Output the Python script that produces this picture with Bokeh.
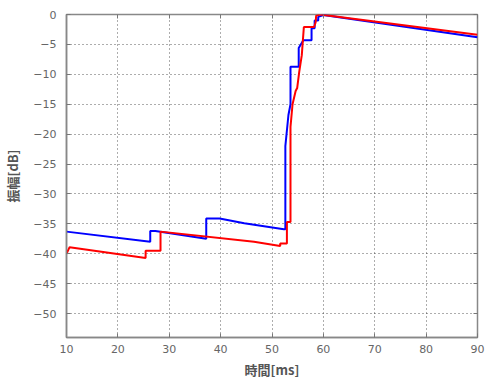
from bokeh.plotting import figure
from bokeh.models import Range1d, FixedTicker, LinearAxis
from bokeh.embed import file_html
from bokeh.resources import INLINE

# data (time in ms, amplitude in dB)
blue_x = [10, 26.3, 26.3, 27.3, 37.2, 37.2, 39.8, 44.6, 52.3, 52.6, 52.6, 53.2, 53.6, 53.6,
          55.2, 55.2, 56.1, 57.7, 57.7, 58.3, 58.3, 59.0, 59.0, 60.0, 90]
blue_y = [-36.3, -38.0, -36.2, -36.2, -37.5, -34.1, -34.1, -34.9, -35.9, -35.9, -22.0, -16.8, -15.0, -8.75,
          -8.75, -5.6, -4.3, -4.3, -2.3, -2.3, -1.0, -1.0, -0.4, -0.1, -3.8]

red_x = [10, 10.6, 25.4, 25.4, 28.3, 28.3, 46.5, 51.6, 51.6, 52.9, 52.9, 53.6, 53.6, 54.0, 54.6,
         54.9, 55.3, 55.8, 56.2, 56.2, 58.2, 58.5, 58.6, 59.4, 90]
red_y = [-40.0, -38.9, -40.7, -39.5, -39.5, -36.3, -38.0, -38.7, -38.3, -38.3, -34.7, -34.7, -18.8, -15.0, -12.8,
         -12.3, -9.6, -6.8, -2.1, -2.1, -2.1, -1.3, -0.2, 0.0, -3.4]

x_ticks = [10, 20, 30, 40, 50, 60, 70, 80, 90]
y_ticks = [0, -5, -10, -15, -20, -25, -30, -35, -40, -45, -50]
x_label = "時間[ms]"
y_label = "振幅[dB]"

p = figure(width=485, height=381, x_range=Range1d(10, 90), y_range=Range1d(-54, 0),
           output_backend="svg", toolbar_location=None,
           min_border_left=61, min_border_right=8, min_border_top=14, min_border_bottom=43)
p.background_fill_color = "white"
p.border_fill_color = "white"
p.outline_line_color = "#888888"
p.outline_line_width = 1.5

p.xaxis.ticker = FixedTicker(ticks=x_ticks)
p.yaxis.ticker = FixedTicker(ticks=y_ticks)
for ax in (p.xaxis[0], p.yaxis[0]):
    ax.axis_line_color = "#888888"
    ax.axis_line_width = 1.5
    ax.major_tick_in = 4
    ax.major_tick_out = 0
    ax.major_tick_line_color = "#777777"
    ax.minor_tick_line_color = None
    ax.major_label_text_font = "DejaVu Sans"
    ax.major_label_text_font_size = "11px"
    ax.major_label_text_color = "#666666"
    ax.axis_label_text_font = "Noto Sans CJK JP"
    ax.axis_label_text_font_size = "13px"
    ax.axis_label_text_font_style = "bold"
    ax.axis_label_text_color = "#555555"
p.xaxis.axis_label = x_label
p.yaxis.axis_label = y_label
p.xaxis.major_label_standoff = 7
p.yaxis.major_label_standoff = 10
p.xaxis.axis_label_standoff = 4
p.yaxis.axis_label_standoff = 8

for loc in ("right", "above"):
    ax = LinearAxis(ticker=FixedTicker(ticks=y_ticks if loc == "right" else x_ticks),
                    major_label_text_font_size="0px", major_label_standoff=0,
                    axis_line_color=None, major_tick_in=4, major_tick_out=0,
                    major_tick_line_color="#777777", minor_tick_line_color=None)
    p.add_layout(ax, loc)

p.xgrid.ticker = FixedTicker(ticks=x_ticks)
p.ygrid.ticker = FixedTicker(ticks=y_ticks)
p.grid.grid_line_color = "#333333"
p.grid.grid_line_alpha = 0.8
p.grid.grid_line_dash = "1 3"
p.grid.grid_line_width = 1

p.line(blue_x, blue_y, line_color="#0000ff", line_width=2)
p.line(red_x, red_y, line_color="#ff0000", line_width=2)

open("out.html", "w").write(file_html(p, INLINE))
